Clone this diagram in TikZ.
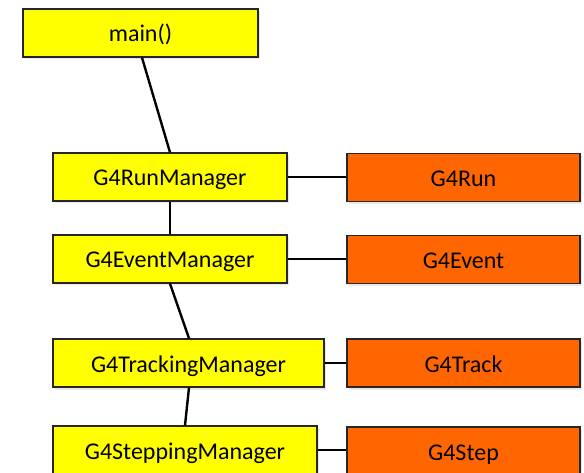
\documentclass[tikz,border=0pt]{standalone}
\usepackage{fontspec}
\setmainfont{Carlito}
\usetikzlibrary{shadows}
\definecolor{boxyellow}{HTML}{FFFF00}
\definecolor{boxorange}{HTML}{FF6600}
\definecolor{boxborder}{HTML}{262626}
\tikzset{
  gbox/.style={draw=boxborder, line width=1.3pt, minimum height=48pt, inner sep=0pt,
    text height=18pt, text depth=0pt,
    font=\fontsize{24}{28}\selectfont,
    drop shadow={opacity=0.18, shadow xshift=1.5pt, shadow yshift=-2.5pt}},
  ybox/.style={gbox, fill=boxyellow},
  obox/.style={gbox, fill=boxorange},
  link/.style={draw=black, line width=2.4pt}
}
\begin{document}
\begin{tikzpicture}[x=1pt,y=-1pt]
\useasboundingbox (0,0) rectangle (584,473);
\node[ybox, minimum width=235pt] (main) at (140.5,33) {main()};
\node[ybox, minimum width=234pt] (rm) at (170,177) {G4RunManager};
\node[ybox, minimum width=234pt] (em) at (170,259) {G4EventManager};
\node[ybox, minimum width=271pt] (tm) at (188.5,363) {G4TrackingManager};
\node[ybox, minimum width=264pt] (sm) at (185,450) {G4SteppingManager};
\node[obox, minimum width=233pt] (run) at (463.5,177.5) {G4Run};
\node[obox, minimum width=233pt] (ev) at (463.5,259.5) {G4Event};
\node[obox, minimum width=233pt] (tr) at (463.5,363) {G4Track};
\node[obox, minimum width=233pt] (st) at (463.5,451) {G4Step};
\draw[link] ([xshift=1.5pt]main.south) -- (rm.north);
\draw[link] (rm.south) -- (em.north);
\draw[link] (em.south) -- ([xshift=0.5pt]tm.north);
\draw[link] ([xshift=0.5pt]tm.south) -- (sm.north);
\draw[link] (rm.east) -- (rm.east -| run.west);
\draw[link] (em.east) -- (em.east -| ev.west);
\draw[link] (tm.east) -- (tm.east -| tr.west);
\draw[link] (sm.east) -- (sm.east -| st.west);
\end{tikzpicture}
\end{document}
